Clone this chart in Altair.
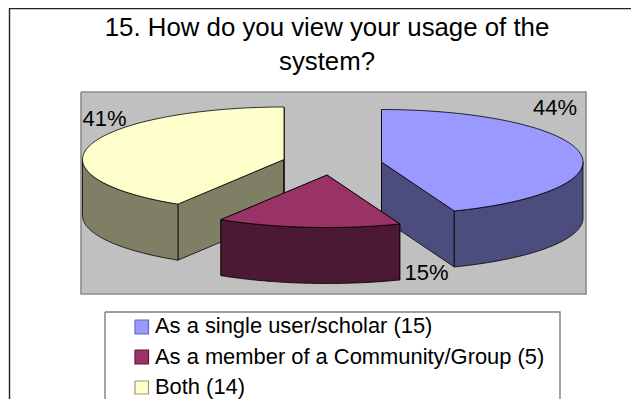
import numpy as np
import pandas as pd
import altair as alt

# ---- chart content ----
title_lines = ["15. How do you view your usage of the", "system?"]
categories = ["As a single user/scholar", "As a member of a Community/Group", "Both"]
counts = [15, 5, 14]
percent_labels = ["44%", "15%", "41%"]

# ---- styles and layout (page pixels) ----
top_colors = ["#9999FF", "#993366", "#FFFFCC"]
side_colors = ["#4C4C7F", "#4C1933", "#7F7F66"]
swatch_edges = ["#6666CC", "#66133F", "#99997A"]
centers = [(381.5, 162), (327, 175), (284, 159.5)]
RX, RY, DEPTH = 201.5, 52.5, 56
draw_order = [2, 0, 1]
label_pos = [(555, 115), (426.5, 280), (104.5, 126)]
swatch_boxes = [(135, 320, 148.5, 334), (135, 350, 148.5, 364), (135, 381, 148.5, 394)]
legend_baselines = [333, 364, 393.5]

W, H = 623, 391
X = alt.Scale(domain=[8, 631], nice=False, zero=False)
Y = alt.Scale(domain=[399, 8], nice=False, zero=False)


def poly(points, fill, stroke, width=0.8):
    df = pd.DataFrame(points, columns=["x", "y"])
    df["i"] = range(len(df))
    kw = dict(stroke=stroke, strokeWidth=width, strokeJoin="miter", clip=False)
    if fill is not None:
        kw["fill"] = fill
    return alt.Chart(df).mark_line(**kw).encode(
        x=alt.X("x:Q", scale=X, axis=None),
        y=alt.Y("y:Q", scale=Y, axis=None),
        order="i:Q",
    )


def rect(x0, y0, x1, y1, fill, stroke, width=1.0):
    return poly([(x0, y0), (x1, y0), (x1, y1), (x0, y1), (x0, y0)], fill, stroke, width)


def arc(cx, cy, a0, a1, dy=0.0):
    t = np.radians(np.linspace(a0, a1, 80))
    return [(cx + RX * np.sin(v), cy + dy - RY * np.cos(v)) for v in t]


def text(rows, size, align="center"):
    df = pd.DataFrame(rows, columns=["x", "y", "t"])
    return alt.Chart(df).mark_text(
        font="Liberation Sans", fontSize=size, align=align, baseline="alphabetic", color="black"
    ).encode(
        x=alt.X("x:Q", scale=X, axis=None),
        y=alt.Y("y:Q", scale=Y, axis=None),
        text="t:N",
    )


layers = [
    poly([(9.5, 399), (9.5, 8.6), (631, 8.6)], None, "#222222", 1.4),
    text([(327, 36, title_lines[0]), (327, 69.5, title_lines[1])], 25.8),
    rect(81, 92, 586, 294, "#C0C0C0", "#8C8C8C", 1.6),
]

# slice angles, clockwise from twelve o'clock
total = sum(counts)
edges = np.concatenate([[0], np.cumsum(counts) / total * 360])
for k in draw_order:
    cx, cy = centers[k]
    a0, a1 = edges[k], edges[k + 1]
    # flat cut faces
    for a in (a0, a1):
        e = arc(cx, cy, a, a, 0)[0]
        layers.append(poly([(cx, cy), e, (e[0], e[1] + DEPTH), (cx, cy + DEPTH), (cx, cy)],
                           side_colors[k], "black"))
    # curved outer wall (front half only)
    w0, w1 = max(a0, 90), min(a1, 270)
    if w1 > w0:
        front = arc(cx, cy, w0, w1)
        back = arc(cx, cy, w1, w0, DEPTH)
        layers.append(poly(front + back + [front[0]], side_colors[k], "black"))
    # top face
    face = [(cx, cy)] + arc(cx, cy, a0, a1) + [(cx, cy)]
    layers.append(poly(face, top_colors[k], "black"))

layers.append(text([(label_pos[i][0], label_pos[i][1], percent_labels[i]) for i in range(3)], 22))

layers.append(rect(105, 312, 560, 406, "#FFFFFF", "#808080", 1.4))
for i, (x0, y0, x1, y1) in enumerate(swatch_boxes):
    layers.append(rect(x0, y0, x1, y1, top_colors[i], swatch_edges[i], 1.2))
layers.append(text([(155, legend_baselines[i], f"{categories[i]} ({counts[i]})") for i in range(3)],
                   21.9, align="left"))

chart = alt.layer(*layers).properties(
    width=W, height=H, padding=0, background="white",
    autosize=alt.AutoSizeParams(type="none"),
).configure_view(stroke=None)

chart.save("out.html", embed_options={"renderer": "svg", "actions": False})
